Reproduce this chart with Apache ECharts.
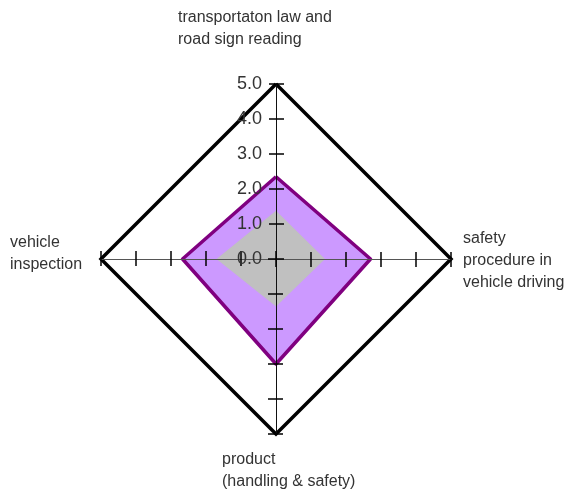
<!DOCTYPE html>
<html>
<head>
<meta charset="utf-8">
<style>
  html, body { margin: 0; padding: 0; background: #fff; }
  #chart { width: 587px; height: 495px; }
</style>
<script src="https://cdn.jsdelivr.net/npm/echarts@6/dist/echarts.min.js"></script>
</head>
<body>
<div id="chart"></div>
<script>
// indicators go counter-clockwise from the top: top, left, bottom, right
const indicatorNames = [
  'transportaton law and\nroad sign reading',
  'vehicle\ninspection',
  'product\n(handling & safety)',
  'safety\nprocedure in\nvehicle driving'
]
const maxValue = 5
const outerValues = [2.35, 2.67, 3.0, 2.7]
const innerValues = [1.38, 1.7, 1.36, 1.4]

const center = [276, 259]
const radius = 175
const font = 'Liberation Sans, Arial, sans-serif'

// name label boxes (top-left corners)
const namePos = [[178, 7], [10, 232], [222, 449], [463, 228]]

function indicators(showLabel) {
  return indicatorNames.map((name, i) => {
    const vertical = i % 2 === 0
    return {
      name: name,
      min: 0,
      max: maxValue,
      axisLine: { show: true, lineStyle: { color: vertical ? '#111' : '#555', width: 1 } },
      axisLabel: { show: showLabel && i === 0 }
    }
  })
}

const baseRadar = {
  center: center,
  radius: radius,
  shape: 'polygon',
  startAngle: 90,
  splitNumber: 5,
  z: 5,
  axisName: { show: false },
  splitArea: { show: false },
  splitLine: { show: false }
}

const chart = echarts.init(document.getElementById('chart'))
chart.setOption({
  animation: false,
  backgroundColor: '#fff',
  radar: [
    // outer frame
    Object.assign({}, baseRadar, {
      splitNumber: 1,
      z: 0,
      indicator: indicatorNames.map(name => ({ name: name, min: 0, max: maxValue })),
      axisLine: { show: false },
      axisTick: { show: false },
      axisLabel: { show: false },
      splitLine: { show: true, lineStyle: { color: '#000', width: 3.5 } }
    }),
    // axes, ticks on one side and labels
    Object.assign({}, baseRadar, {
      indicator: indicators(true),
      axisTick: { show: true, length: 7, lineStyle: { color: '#000', width: 1.5 } },
      axisLabel: {
        show: true,
        margin: 14,
        fontSize: 18,
        fontFamily: font,
        color: '#333',
        formatter: v => Number(v).toFixed(1)
      }
    }),
    // ticks on the other side
    Object.assign({}, baseRadar, {
      indicator: indicators(false),
      axisTick: { show: true, length: -8, lineStyle: { color: '#000', width: 1.5 } },
      axisLabel: { show: false }
    })
  ],
  graphic: indicatorNames.map((name, i) => ({
    type: 'text',
    x: namePos[i][0],
    y: namePos[i][1],
    style: {
      text: name,
      font: '16px ' + font,
      lineHeight: 22,
      fill: '#333',
      textAlign: 'left',
      textVerticalAlign: 'top'
    }
  })),
  series: [
    {
      type: 'radar',
      radarIndex: 0,
      symbol: 'none',
      z: 2,
      lineStyle: { width: 0, opacity: 0 },
      itemStyle: { color: '#cc99ff' },
      areaStyle: { color: '#cc99ff', opacity: 1 },
      data: [{ value: outerValues }]
    },
    {
      type: 'radar',
      radarIndex: 0,
      symbol: 'none',
      z: 3,
      lineStyle: { width: 0, opacity: 0 },
      itemStyle: { color: '#c0c0c0' },
      areaStyle: { color: '#c0c0c0', opacity: 1 },
      data: [{ value: innerValues }]
    },
    // outline of the outer polygon, drawn above its fill
    {
      type: 'radar',
      radarIndex: 0,
      symbol: 'none',
      z: 4,
      lineStyle: { color: '#800080', width: 3.5 },
      itemStyle: { color: '#800080' },
      data: [{ value: outerValues }]
    }
  ]
})
</script>
</body>
</html>
